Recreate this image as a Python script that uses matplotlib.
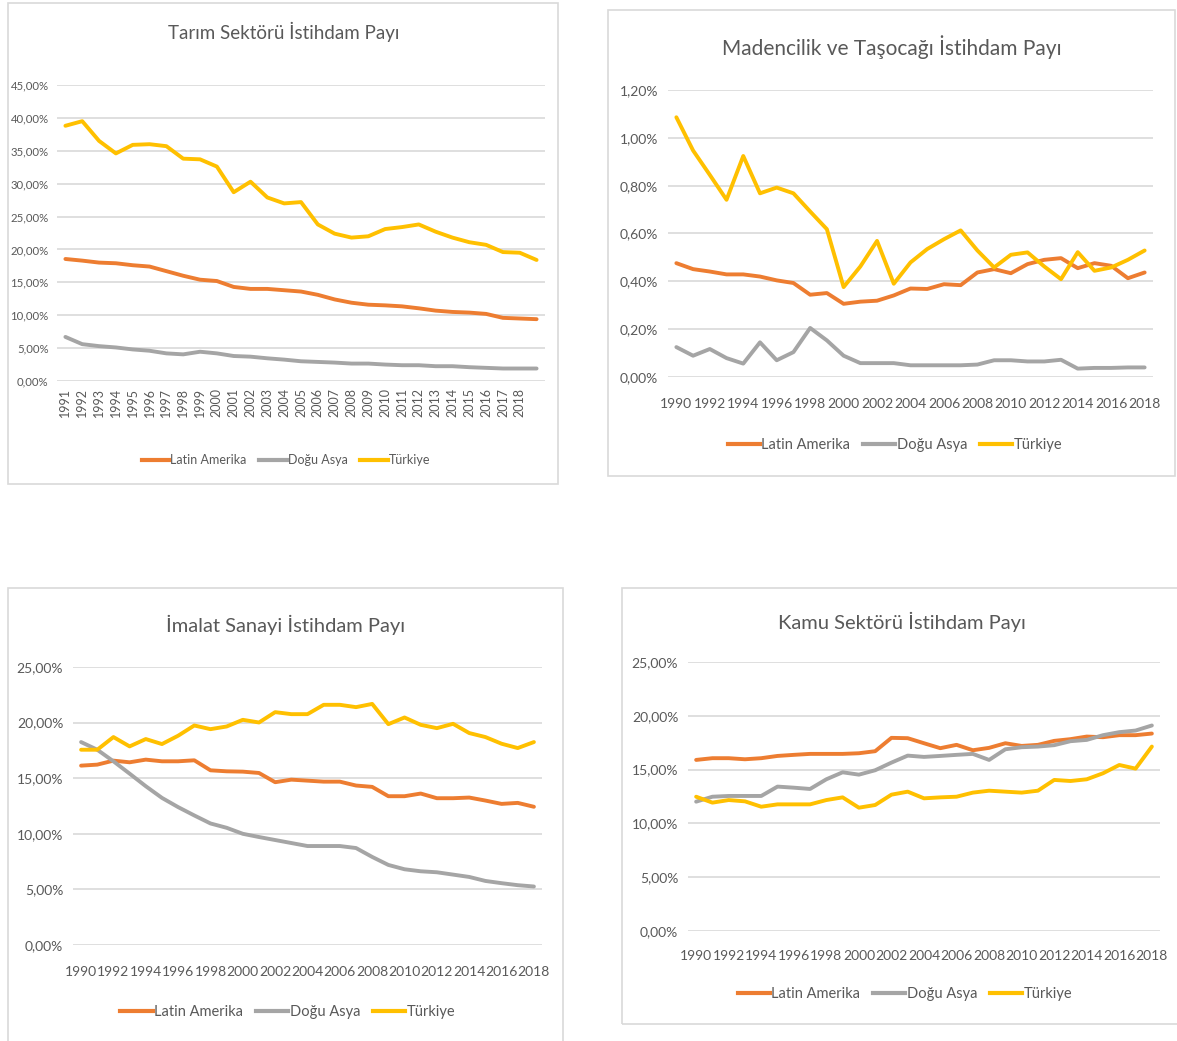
import matplotlib
matplotlib.use("Agg")
import matplotlib.pyplot as plt
from matplotlib.patches import Rectangle
from matplotlib.lines import Line2D

plt.rcParams['font.family'] = ['Lato', 'DejaVu Sans']

W, H = 1177, 1041

series_names = ["Latin Amerika", "Doğu Asya", "Türkiye"]
colors = ["#ED7D31", "#A5A5A5", "#FFC000"]
text_color = "#595959"
grid_color = "#D9D9D9"

# --- Tarım (1991-2019, last year has no label) ---
tarim_labels = [str(y) for y in range(1991, 2019)]
tarim_latin = [18.55, 18.3, 18.0, 17.9, 17.6, 17.4, 16.7, 16.0, 15.4, 15.2,
               14.3, 14.0, 14.0, 13.8, 13.6, 13.1, 12.4, 11.9, 11.6, 11.5,
               11.35, 11.05, 10.7, 10.5, 10.4, 10.2, 9.6, 9.5, 9.4]
tarim_asya = [6.7, 5.6, 5.3, 5.1, 4.8, 4.6, 4.2, 4.05, 4.45, 4.2,
              3.8, 3.7, 3.45, 3.25, 3.0, 2.9, 2.8, 2.65, 2.65, 2.5,
              2.4, 2.4, 2.25, 2.25, 2.1, 2.0, 1.9, 1.9, 1.9]
tarim_tr = [38.8, 39.5, 36.5, 34.6, 35.9, 36.0, 35.7, 33.8, 33.7, 32.6,
            28.7, 30.3, 27.9, 27.0, 27.2, 23.8, 22.4, 21.8, 22.0, 23.1,
            23.4, 23.8, 22.7, 21.8, 21.1, 20.7, 19.6, 19.5, 18.4]

# --- Madencilik (1990-2018) ---
years = list(range(1990, 2019))
maden_latin = [0.476, 0.451, 0.441, 0.429, 0.429, 0.42, 0.404, 0.393, 0.344, 0.351,
               0.306, 0.315, 0.319, 0.341, 0.37, 0.368, 0.388, 0.384, 0.437, 0.451,
               0.434, 0.472, 0.49, 0.497, 0.455, 0.476, 0.465, 0.413, 0.437]
maden_asya = [0.125, 0.089, 0.117, 0.079, 0.056, 0.145, 0.07, 0.104, 0.205, 0.153,
              0.089, 0.058, 0.058, 0.058, 0.049, 0.049, 0.049, 0.049, 0.052, 0.07,
              0.07, 0.065, 0.065, 0.072, 0.035, 0.038, 0.038, 0.04, 0.04]
maden_tr = [1.086, 0.947, 0.845, 0.741, 0.924, 0.768, 0.792, 0.768, 0.692, 0.618,
            0.376, 0.462, 0.569, 0.39, 0.479, 0.535, 0.576, 0.613, 0.529, 0.458,
            0.511, 0.521, 0.462, 0.409, 0.522, 0.444, 0.458, 0.49, 0.529]

# --- İmalat (1990-2018) ---
imalat_latin = [16.13, 16.22, 16.58, 16.43, 16.67, 16.52, 16.52, 16.61, 15.71, 15.62,
                15.59, 15.47, 14.64, 14.87, 14.78, 14.69, 14.69, 14.34, 14.22, 13.38,
                13.38, 13.62, 13.2, 13.2, 13.26, 12.99, 12.69, 12.78, 12.43]
imalat_asya = [18.25, 17.56, 16.52, 15.41, 14.28, 13.23, 12.4, 11.65, 10.93, 10.54,
               10.0, 9.71, 9.44, 9.17, 8.9, 8.9, 8.9, 8.72, 7.92, 7.2,
               6.81, 6.63, 6.54, 6.33, 6.12, 5.76, 5.56, 5.38, 5.26]
imalat_tr = [17.56, 17.56, 18.7, 17.86, 18.52, 18.07, 18.82, 19.74, 19.41, 19.65,
             20.25, 20.01, 20.94, 20.76, 20.76, 21.6, 21.6, 21.39, 21.68, 19.86,
             20.46, 19.8, 19.5, 19.89, 19.06, 18.7, 18.1, 17.71, 18.25]

# --- Kamu (1990-2018) ---
kamu_latin = [15.9, 16.06, 16.06, 15.96, 16.06, 16.27, 16.37, 16.46, 16.46, 16.46,
              16.52, 16.71, 17.95, 17.92, 17.45, 16.99, 17.3, 16.8, 17.02, 17.45,
              17.2, 17.3, 17.67, 17.83, 18.07, 18.01, 18.2, 18.2, 18.35]
kamu_asya = [12.02, 12.48, 12.55, 12.55, 12.55, 13.42, 13.32, 13.2, 14.1, 14.75,
             14.53, 14.94, 15.65, 16.3, 16.18, 16.27, 16.37, 16.46, 15.9, 16.89,
             17.08, 17.14, 17.27, 17.64, 17.76, 18.2, 18.48, 18.63, 19.1]
kamu_tr = [12.48, 11.93, 12.17, 12.05, 11.55, 11.77, 11.77, 11.77, 12.17, 12.42,
           11.46, 11.71, 12.67, 12.95, 12.33, 12.42, 12.48, 12.86, 13.04, 12.95,
           12.86, 13.04, 14.04, 13.94, 14.1, 14.66, 15.43, 15.09, 17.14]


def px_axes(fig, x0, y0, x1, y1):
    return fig.add_axes([x0 / W, 1 - y1 / H, (x1 - x0) / W, (y1 - y0) / H])


def panel_box(fig, x0, y0, x1, y1):
    fig.patches.append(Rectangle((x0 / W, 1 - y1 / H), (x1 - x0) / W, (y1 - y0) / H,
                                 transform=fig.transFigure, fill=False,
                                 edgecolor=grid_color, lw=1.2))


def pct(v):
    return f"{v:.2f}".replace(".", ",") + "%"


def draw(ax, data, ymax, ystep, xlabels, xpos, tick_fs, rot=0):
    n = len(data[0])
    for vals, c in zip(data, colors):
        ax.plot(range(n), vals, color=c, lw=2.8, solid_joinstyle="round",
                solid_capstyle="round", clip_on=False, zorder=3)
    ax.set_xlim(-0.5, n - 0.5)
    ax.set_ylim(0, ymax)
    ticks = [i * ystep for i in range(int(round(ymax / ystep)) + 1)]
    ax.set_yticks(ticks)
    ax.set_yticklabels([pct(t) for t in ticks])
    ax.set_xticks(xpos)
    ax.set_xticklabels(xlabels, rotation=rot)
    ax.grid(axis="y", color=grid_color, lw=1.2)
    ax.set_axisbelow(True)
    for s in ax.spines.values():
        s.set_visible(False)
    ax.tick_params(length=0, labelsize=tick_fs, colors=text_color, pad=7)


def legend_at(fig, x, y, fs, colsp):
    handles = [Line2D([], [], color=c, lw=3) for c in colors]
    fig.legend(handles, series_names, loc="center", bbox_to_anchor=(x / W, 1 - y / H),
               ncol=3, frameon=False, fontsize=fs, handlelength=2.2, handletextpad=0.1,
               columnspacing=colsp, labelcolor=text_color)


fig = plt.figure(figsize=(W / 100, H / 100), dpi=100)

# Panel 1
panel_box(fig, 8, 3, 558, 484)
ax1 = px_axes(fig, 57, 85, 545, 381)
draw(ax1, [tarim_latin, tarim_asya, tarim_tr], 45, 5, tarim_labels,
     list(range(len(tarim_labels))), 9, rot=90)
ax1.tick_params(axis="x", pad=5)
ax1.tick_params(axis="y", labelsize=8.2, pad=6)
fig.text(284 / W, 1 - 32 / H, "Tarım Sektörü İstihdam Payı", ha="center", va="center",
         fontsize=13.5, color=text_color)
legend_at(fig, 286, 460, 9, 1.0)

# Panel 2
panel_box(fig, 608, 10, 1175, 476)
ax2 = px_axes(fig, 668, 90, 1153, 377)
draw(ax2, [maden_latin, maden_asya, maden_tr], 1.2, 0.2, [str(y) for y in years[::2]],
     list(range(0, len(years), 2)), 10)
ax2.tick_params(axis="x", pad=15)
fig.text(892 / W, 1 - 47 / H, "Madencilik ve Taşocağı İstihdam Payı", ha="center",
         va="center", fontsize=15, color=text_color)
legend_at(fig, 895, 445, 10.5, 0.9)

# Panel 3
panel_box(fig, 8, 588, 563, 1050)
ax3 = px_axes(fig, 73, 667, 542, 945)
draw(ax3, [imalat_latin, imalat_asya, imalat_tr], 25, 5, [str(y) for y in years[::2]],
     list(range(0, len(years), 2)), 10)
ax3.tick_params(axis="x", pad=15)
fig.text(286 / W, 1 - 625 / H, "İmalat Sanayi İstihdam Payı", ha="center", va="center",
         fontsize=14.5, color=text_color)
legend_at(fig, 288, 1012, 10.5, 0.9)

# Panel 4
panel_box(fig, 622, 588, 1185, 1024)
ax4 = px_axes(fig, 688, 662, 1160, 931)
draw(ax4, [kamu_latin, kamu_asya, kamu_tr], 25, 5, [str(y) for y in years[::2]],
     list(range(0, len(years), 2)), 10)
ax4.tick_params(axis="x", pad=14)
fig.text(902 / W, 1 - 622 / H, "Kamu Sektörü İstihdam Payı", ha="center", va="center",
         fontsize=14.5, color=text_color)
legend_at(fig, 905, 994, 10.5, 0.9)

fig.savefig("out.png", dpi=100)
